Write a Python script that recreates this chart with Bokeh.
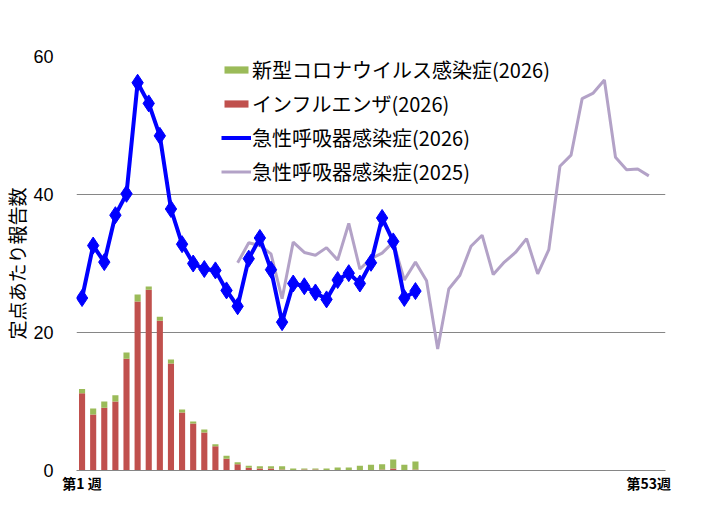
from bokeh.plotting import figure
from bokeh.models import ColumnDataSource, Range1d, FixedTicker, Legend, LegendItem
from bokeh.embed import file_html
from bokeh.resources import INLINE

# ---- data ----
weeks_2026 = list(range(1, 32))
acute_2026 = [25.0, 32.6, 30.2, 37.0, 40.1, 56.2, 53.2, 48.5, 37.9, 32.8,
              30.0, 29.2, 29.0, 26.1, 23.8, 30.7, 33.7, 29.1, 21.5, 27.1,
              26.7, 25.8, 24.8, 27.6, 28.6, 27.1, 30.1, 36.6, 33.2, 25.0, 26.0]
flu_2026 = [11.2, 8.1, 9.1, 10.0, 16.2, 24.5, 26.2, 21.7, 15.5, 8.4,
            6.8, 5.5, 3.5, 1.7, 0.9, 0.4, 0.3, 0.3, 0.15, 0.05,
            0.15, 0.15, 0.05, 0.05, 0.0, 0.0, 0.0, 0.15, 0.3, 0.0, 0.15]
covid_2026 = [0.6, 0.9, 0.9, 0.9, 0.9, 1.0, 0.45, 0.6, 0.6, 0.45,
              0.3, 0.45, 0.3, 0.45, 0.3, 0.3, 0.3, 0.3, 0.45, 0.25,
              0.15, 0.15, 0.25, 0.4, 0.45, 0.7, 0.85, 0.75, 1.3, 0.85, 1.15]
weeks_2025 = list(range(15, 53))
acute_2025 = [30.1, 33.0, 32.6, 31.4, 24.9, 33.1, 31.6, 31.2, 32.3, 30.5,
              35.8, 29.2, 30.7, 31.5, 33.1, 27.6, 30.2, 27.5, 17.6, 26.3,
              28.3, 32.5, 34.1, 28.4, 30.2, 31.6, 33.6, 28.5, 32.0, 44.1,
              45.7, 53.9, 54.7, 56.6, 45.4, 43.6, 43.7, 42.7]
y_ticks = [0, 20, 40, 60]
x_tick_pos = [1, 52]
x_tick_labels = ["第1 週", "第53週"]

names = ["新型コロナウイルス感染症(2026)", "インフルエンザ(2026)",
         "急性呼吸器感染症(2026)", "急性呼吸器感染症(2025)"]

JP = "Noto Sans CJK JP"

p = figure(width=700, height=510, output_backend="svg", toolbar_location=None,
           x_range=Range1d(0.5, 53.5), y_range=Range1d(0, 60),
           min_border_left=60, min_border_top=56, min_border_right=35,
           min_border_bottom=40)
p.outline_line_color = None

bars = ColumnDataSource(dict(week=weeks_2026, flu=flu_2026,
                             covid=covid_2026,
                             total=[a + b for a, b in zip(flu_2026, covid_2026)]))
r_flu = p.vbar(x="week", bottom=0, top="flu", width=0.55, source=bars,
               fill_color="#C0504D", line_color=None)
r_cov = p.vbar(x="week", bottom="flu", top="total", width=0.55, source=bars,
               fill_color="#9BBB59", line_color=None)

r_25 = p.line(weeks_2025, acute_2025, line_color="#B3A2C7", line_width=3)
r_26 = p.line(weeks_2026, acute_2026, line_color="#0000FF", line_width=4)
r_26m = p.scatter(weeks_2026, acute_2026, marker="diamond", size=17,
                  fill_color="#0000FF", line_color="#0000FF")

# axes
p.yaxis.ticker = FixedTicker(ticks=y_ticks)
p.yaxis.axis_line_color = None
p.yaxis.major_tick_line_color = None
p.yaxis.major_tick_out = 0
p.yaxis.major_tick_in = 0
p.yaxis.minor_tick_line_color = None
p.yaxis.minor_tick_out = 0
p.yaxis.major_label_text_font = "Liberation Sans"
p.yaxis.major_label_text_font_size = "18px"
p.yaxis.major_label_text_color = "#000000"
p.yaxis.major_label_standoff = 23
p.yaxis.axis_label = "定点あたり報告数"
p.yaxis.axis_label_text_font = JP
p.yaxis.axis_label_text_font_size = "19px"
p.yaxis.axis_label_text_font_style = "normal"
p.yaxis.axis_label_text_color = "#000000"
p.yaxis.axis_label_standoff = 0

p.xaxis.ticker = FixedTicker(ticks=x_tick_pos)
p.xaxis.major_label_overrides = {t: l for t, l in zip(x_tick_pos, x_tick_labels)}
p.xaxis.axis_line_color = "#868686"
p.xaxis.axis_line_width = 1
p.xaxis.major_tick_line_color = None
p.xaxis.major_tick_out = 0
p.xaxis.major_tick_in = 0
p.xaxis.minor_tick_line_color = None
p.xaxis.minor_tick_out = 0
p.xaxis.major_label_text_font = JP
p.xaxis.major_label_text_font_size = "14px"
p.xaxis.major_label_text_font_style = "bold"
p.xaxis.major_label_text_color = "#000000"
p.xaxis.major_label_standoff = 2

p.xgrid.grid_line_color = None
p.ygrid.grid_line_color = "#868686"
p.ygrid.grid_line_width = 1

legend = Legend(items=[
    LegendItem(label=names[0], renderers=[r_cov]),
    LegendItem(label=names[1], renderers=[r_flu]),
    LegendItem(label=names[2], renderers=[r_26, r_26m]),
    LegendItem(label=names[3], renderers=[r_25]),
], location=(145, 284))
legend.label_text_font = JP
legend.label_text_font_size = "20px"
legend.label_text_color = "#000000"
legend.glyph_width = 30
legend.glyph_height = 9
legend.label_height = 20
legend.label_standoff = 1
legend.spacing = 5
legend.padding = 0
legend.margin = 0
legend.background_fill_alpha = 0
legend.border_line_alpha = 0
p.add_layout(legend, "center")

open("out.html", "w").write(file_html(p, INLINE))
